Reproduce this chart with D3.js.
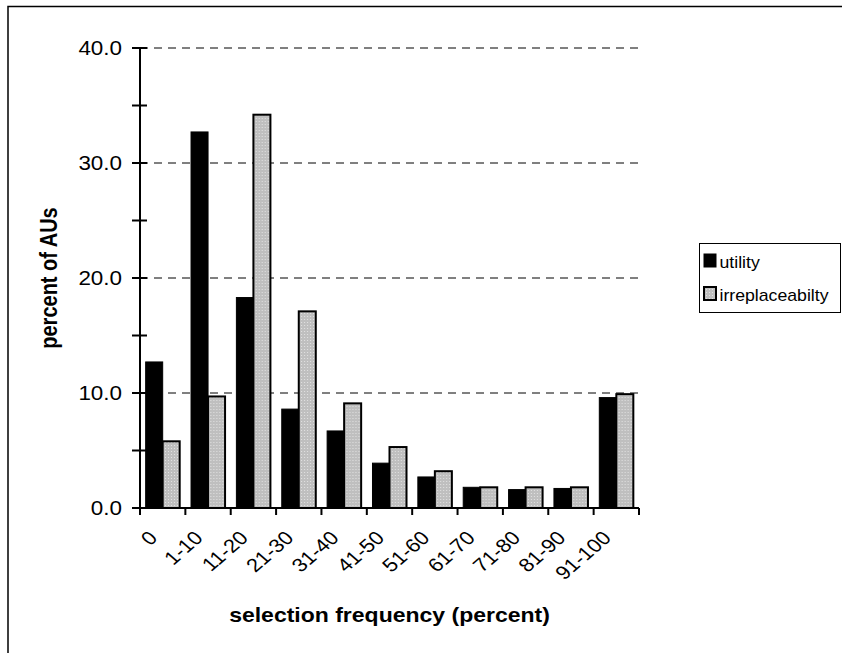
<!DOCTYPE html>
<html>
<head>
<meta charset="utf-8">
<script src="https://cdn.jsdelivr.net/npm/d3@7"></script>
<style>
  html, body { margin: 0; padding: 0; background: #fff; }
  svg { display: block; font-family: "Liberation Sans", Arial, sans-serif; }
</style>
</head>
<body>
<svg id="chart" width="842" height="653"></svg>
<script>
// Share of AUs per selection-frequency class
const categories = ["0", "1-10", "11-20", "21-30", "31-40", "41-50", "51-60", "61-70", "71-80", "81-90", "91-100"];
const utility = [12.7, 32.7, 18.3, 8.6, 6.7, 3.9, 2.7, 1.8, 1.6, 1.7, 9.6];
const irreplaceability = [5.8, 9.7, 34.2, 17.1, 9.1, 5.3, 3.2, 1.8, 1.8, 1.8, 9.9];
const seriesNames = ["utility", "irreplaceabilty"];
const yTicks = [0, 10, 20, 30, 40];
const yMinorTicks = [5, 15, 25, 35];

const svg = d3.select("#chart");
const SX = 1.15; // text is drawn slightly wide

const plot = { left: 140, right: 639, top: 48, bottom: 508 };

// patterned grey fill
const defs = svg.append("defs");
const pat = defs.append("pattern")
  .attr("id", "dots").attr("width", 3).attr("height", 3)
  .attr("patternUnits", "userSpaceOnUse");
pat.append("rect").attr("width", 3).attr("height", 3).attr("fill", "#bfbfbf");
pat.append("rect").attr("x", 1).attr("y", 1).attr("width", 1).attr("height", 1).attr("fill", "#e2e2e2");

// outer frame
svg.append("rect")
  .attr("x", 8).attr("y", 6.5).attr("width", 900).attr("height", 700)
  .attr("fill", "none").attr("stroke", "#000").attr("stroke-width", 1.5);

const y = d3.scaleLinear().domain([0, 40]).range([plot.bottom, plot.top]);
const x0 = d3.scaleBand().domain(categories).range([plot.left, plot.right]).padding(0);
const bw = x0.bandwidth();
const x1 = d3.scaleBand().domain(seriesNames).range([bw * 0.125, bw * 0.875]).padding(0);

// dashed gridlines
svg.append("g").selectAll("line")
  .data(yTicks.filter(d => d > 0))
  .join("line")
  .attr("x1", plot.left).attr("x2", plot.right)
  .attr("y1", d => y(d)).attr("y2", d => y(d))
  .attr("stroke", "#000").attr("stroke-width", 1)
  .attr("stroke-dasharray", "8,6");

// bars
const groups = svg.append("g").selectAll("g")
  .data(categories.map((c, i) => ({ c, vals: [utility[i], irreplaceability[i]] })))
  .join("g")
  .attr("transform", d => `translate(${x0(d.c)},0)`);

groups.selectAll("rect")
  .data(d => d.vals.map((v, k) => ({ v, s: seriesNames[k] })))
  .join("rect")
  .attr("x", d => x1(d.s))
  .attr("width", x1.bandwidth())
  .attr("y", d => y(d.v))
  .attr("height", d => y(0) - y(d.v))
  .attr("fill", d => d.s === "utility" ? "#000" : "url(#dots)")
  .attr("stroke", "#000")
  .attr("stroke-width", d => d.s === "utility" ? 1 : 2);

// y axis
const yAxis = svg.append("g");
yAxis.append("line")
  .attr("x1", plot.left).attr("x2", plot.left)
  .attr("y1", plot.top).attr("y2", plot.bottom)
  .attr("stroke", "#000").attr("stroke-width", 2);
yAxis.selectAll("line.tick")
  .data(yTicks.concat(yMinorTicks))
  .join("line").attr("class", "tick")
  .attr("x1", plot.left - 8).attr("x2", plot.left + 7)
  .attr("y1", d => y(d)).attr("y2", d => y(d))
  .attr("stroke", "#000").attr("stroke-width", 2);
yAxis.selectAll("text")
  .data(yTicks)
  .join("text")
  .attr("transform", d => `translate(122,${y(d) + 7}) scale(${SX},1)`)
  .attr("text-anchor", "end")
  .attr("font-size", 19.5)
  .attr("fill", "#000")
  .text(d => d3.format(".1f")(d));

// x axis
const xAxis = svg.append("g");
xAxis.append("line")
  .attr("x1", plot.left).attr("x2", plot.right)
  .attr("y1", plot.bottom).attr("y2", plot.bottom)
  .attr("stroke", "#000").attr("stroke-width", 2);
const edges = categories.map(c => x0(c)).concat([plot.right]);
xAxis.selectAll("line.tick")
  .data(edges)
  .join("line").attr("class", "tick")
  .attr("x1", d => d).attr("x2", d => d)
  .attr("y1", plot.bottom).attr("y2", plot.bottom + 7)
  .attr("stroke", "#000").attr("stroke-width", 2);
xAxis.selectAll("text")
  .data(categories)
  .join("text")
  .attr("transform", d => `translate(${x0(d) + bw / 2 - 4},${plot.bottom + 31}) scale(${SX},1) rotate(-45)`)
  .attr("text-anchor", "end")
  .attr("font-size", 19)
  .attr("fill", "#000")
  .text(d => d);

// axis titles
svg.append("text")
  .attr("transform", `translate(${(plot.left + plot.right) / 2},622) scale(${SX},1)`)
  .attr("text-anchor", "middle")
  .attr("font-size", 20).attr("font-weight", "bold")
  .text("selection frequency (percent)");

svg.append("text")
  .attr("transform", `translate(57,${(plot.top + plot.bottom) / 2}) scale(${SX},1) rotate(-90)`)
  .attr("text-anchor", "middle")
  .attr("font-size", 20).attr("font-weight", "bold")
  .text("percent of AUs");

// legend
const legend = svg.append("g");
legend.append("rect")
  .attr("x", 699.5).attr("y", 243.5).attr("width", 141).attr("height", 69)
  .attr("fill", "#fff").attr("stroke", "#000").attr("stroke-width", 1);
const items = legend.selectAll("g.item")
  .data(seriesNames)
  .join("g").attr("class", "item")
  .attr("transform", (d, i) => `translate(0,${i * 33})`);
items.append("rect")
  .attr("x", 704).attr("y", 254).attr("width", 12).attr("height", 13)
  .attr("fill", d => d === "utility" ? "#000" : "url(#dots)")
  .attr("stroke", "#000").attr("stroke-width", d => d === "utility" ? 1 : 2);
items.append("text")
  .attr("transform", `translate(719.5,268) scale(1.04,1)`)
  .attr("font-size", 17)
  .attr("fill", "#000")
  .text(d => d);
</script>
</body>
</html>
